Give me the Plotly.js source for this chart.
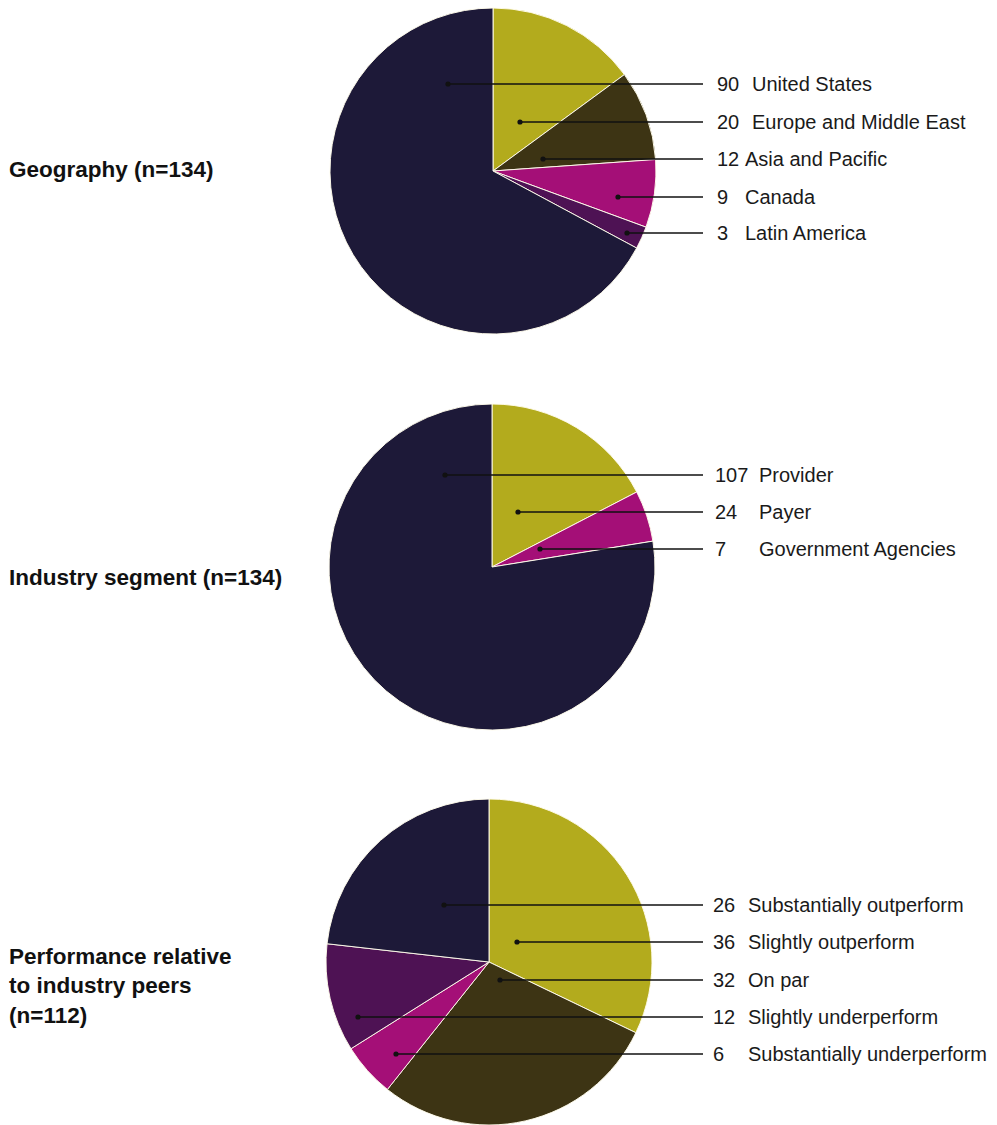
<!DOCTYPE html>
<html><head><meta charset="utf-8">
<script src="https://cdn.plot.ly/plotly-3.0.1.min.js"></script>
<style>html,body{margin:0;padding:0;background:#fff}</style>
</head><body><div id="chart" style="width:997px;height:1125px"></div>
<script>
// ---- DATA ----
// Geography (n=134): slices in clockwise order from 12 o'clock
const geoCategories = ["Europe and Middle East", "Asia and Pacific", "Canada", "Latin America", "United States"];
const geoValues = [20, 12, 9, 3, 90];
const geoLabelOrder = ["United States", "Europe and Middle East", "Asia and Pacific", "Canada", "Latin America"];

// Industry segment (n=134)
const indCategories = ["Payer", "Government Agencies", "Provider"];
const indValues = [24, 7, 107];
const indLabelOrder = ["Provider", "Payer", "Government Agencies"];

// Performance relative to industry peers (n=112)
const perfCategories = ["Slightly outperform", "On par", "Substantially underperform", "Slightly underperform", "Substantially outperform"];
const perfValues = [36, 32, 6, 12, 26];
const perfLabelOrder = ["Substantially outperform", "Slightly outperform", "On par", "Slightly underperform", "Substantially underperform"];

const panelTitles = ["Geography (n=134)", "Industry segment (n=134)", "Performance relative<br>to industry peers<br>(n=112)"];

// ---- STYLE ----
const C = {yellow:"#b3ab1d", olive:"#3d3414", magenta:"#a40f77", purple:"#4e1254", navy:"#1d1938"};
const colorMap = {
  "United States": C.navy, "Europe and Middle East": C.yellow, "Asia and Pacific": C.olive,
  "Canada": C.magenta, "Latin America": C.purple,
  "Provider": C.navy, "Payer": C.yellow, "Government Agencies": C.magenta,
  "Substantially outperform": C.navy, "Slightly outperform": C.yellow, "On par": C.olive,
  "Slightly underperform": C.purple, "Substantially underperform": C.magenta
};
const W = 997, H = 1125;
const FONT = "Liberation Sans, Arial, Helvetica, sans-serif";

const panels = [
  {cats: geoCategories, vals: geoValues, order: geoLabelOrder, title: panelTitles[0],
   cx: 493, cy: 171, r: 163, titleY: 170,
   lineY: [84, 122, 159, 197, 233], dotX: [448, 520, 543, 618, 627],
   lineEnd: 703, numX: 715, labX: [750, 750, 743, 743, 743]},
  {cats: indCategories, vals: indValues, order: indLabelOrder, title: panelTitles[1],
   cx: 492, cy: 567, r: 163, titleY: 577,
   lineY: [475, 512, 549], dotX: [445, 518, 540],
   lineEnd: 703, numX: 713, labX: [757, 757, 757]},
  {cats: perfCategories, vals: perfValues, order: perfLabelOrder, title: panelTitles[2],
   cx: 489, cy: 962, r: 163, titleY: 986,
   lineY: [905, 942, 980, 1017, 1054], dotX: [444, 517, 500, 358, 396],
   lineEnd: 703, numX: 711, labX: [746, 746, 746, 746, 746]}
];

const px = x => x / W;
const py = y => 1 - y / H;

const traces = [];
const annotations = [];
const shapes = [];

panels.forEach(p => {
  traces.push({
    type: "pie", labels: p.cats, values: p.vals, sort: false, direction: "clockwise", rotation: 0,
    textinfo: "none", hoverinfo: "label+value",
    marker: {colors: p.cats.map(c => colorMap[c]), line: {color: "rgba(255,252,235,0.95)", width: 1}},
    domain: {x: [px(p.cx - p.r), px(p.cx + p.r)], y: [Math.max(0, py(p.cy + p.r)), Math.min(1, py(p.cy - p.r))]}
  });
  annotations.push({
    xref: "paper", yref: "paper", x: px(7), y: py(p.titleY), xanchor: "left", yanchor: "middle",
    align: "left", showarrow: false, text: "<b>" + p.title + "</b>",
    font: {family: FONT, size: 22.5, color: "#111"}
  });
  p.order.forEach((lab, i) => {
    const v = p.vals[p.cats.indexOf(lab)];
    const y = p.lineY[i];
    shapes.push({type: "line", xref: "paper", yref: "paper", x0: px(p.dotX[i]), x1: px(p.lineEnd),
      y0: py(y), y1: py(y), line: {color: "#111", width: 1.3}});
    shapes.push({type: "circle", xref: "paper", yref: "paper", xsizemode: "pixel", ysizemode: "pixel",
      xanchor: px(p.dotX[i]), yanchor: py(y), x0: -2.6, x1: 2.6, y0: -2.6, y1: 2.6,
      fillcolor: "#111", line: {width: 0}});
    annotations.push({xref: "paper", yref: "paper", x: px(p.numX), y: py(y), xanchor: "left", yanchor: "middle",
      showarrow: false, text: String(v), font: {family: FONT, size: 20, color: "#1a1a1a"}});
    annotations.push({xref: "paper", yref: "paper", x: px(p.labX[i]), y: py(y), xanchor: "left", yanchor: "middle",
      showarrow: false, text: lab, font: {family: FONT, size: 20, color: "#1a1a1a"}});
  });
});

const layout = {
  width: W, height: H, margin: {l: 0, r: 0, t: 0, b: 0, pad: 0},
  showlegend: false, paper_bgcolor: "#ffffff", plot_bgcolor: "#ffffff",
  annotations: annotations, shapes: shapes
};
Plotly.newPlot("chart", traces, layout, {displayModeBar: false, staticPlot: true});
</script>
</body></html>
